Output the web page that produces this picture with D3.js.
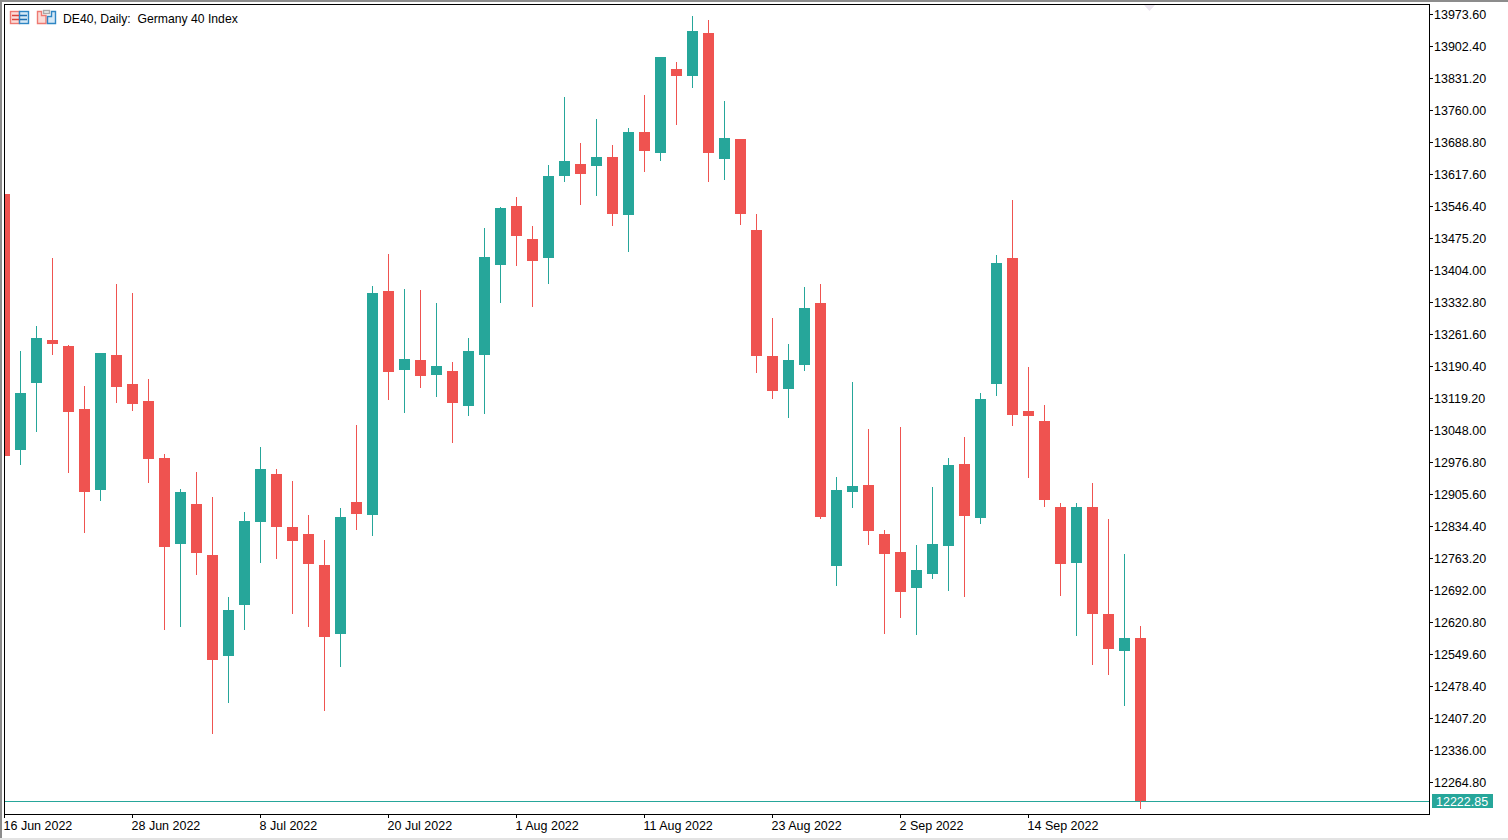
<!DOCTYPE html>
<html>
<head>
<meta charset="utf-8">
<title>DE40, Daily</title>
<script src="https://cdn.jsdelivr.net/npm/d3@7"></script>
<style>
  html, body { margin: 0; padding: 0; background: #fff; overflow: hidden; }
  svg { display: block; }
  text { font-family: "Liberation Sans", sans-serif; font-size: 12.5px; fill: #000; white-space: pre; }
  text.title { font-size: 12.2px; }
</style>
</head>
<body>
<script>

// DATA
//
var title = "DE40, Daily:  Germany 40 Index";

var dates = [
  "16 Jun 2022", "17 Jun 2022", "20 Jun 2022", "21 Jun 2022", "22 Jun 2022", "23 Jun 2022", "24 Jun 2022", "27 Jun 2022",
  "28 Jun 2022", "29 Jun 2022", "30 Jun 2022", "1 Jul 2022", "4 Jul 2022", "5 Jul 2022", "6 Jul 2022", "7 Jul 2022",
  "8 Jul 2022", "11 Jul 2022", "12 Jul 2022", "13 Jul 2022", "14 Jul 2022", "15 Jul 2022", "18 Jul 2022", "19 Jul 2022",
  "20 Jul 2022", "21 Jul 2022", "22 Jul 2022", "25 Jul 2022", "26 Jul 2022", "27 Jul 2022", "28 Jul 2022", "29 Jul 2022",
  "1 Aug 2022", "2 Aug 2022", "3 Aug 2022", "4 Aug 2022", "5 Aug 2022", "8 Aug 2022", "9 Aug 2022", "10 Aug 2022",
  "11 Aug 2022", "12 Aug 2022", "15 Aug 2022", "16 Aug 2022", "17 Aug 2022", "18 Aug 2022", "19 Aug 2022", "22 Aug 2022",
  "23 Aug 2022", "24 Aug 2022", "25 Aug 2022", "26 Aug 2022", "29 Aug 2022", "30 Aug 2022", "31 Aug 2022", "1 Sep 2022",
  "2 Sep 2022", "5 Sep 2022", "6 Sep 2022", "7 Sep 2022", "8 Sep 2022", "9 Sep 2022", "12 Sep 2022", "13 Sep 2022",
  "14 Sep 2022", "15 Sep 2022", "16 Sep 2022", "19 Sep 2022", "20 Sep 2022", "21 Sep 2022", "22 Sep 2022", "23 Sep 2022"
];

var open = [
  13573.1, 13003.5, 13152.6, 13248.3, 13234.9, 13094.7, 12914.5, 13214.9,
  13150.4, 13112.5, 12985.7, 12794.4, 12883.4, 12769.9, 12545.2, 12658.6,
  12843.3, 12950.1, 12832.2, 12816.6, 12747.6, 12594.1, 12887.8, 12858.9,
  13357.3, 13181.5, 13203.8, 13170.4, 13179.3, 13101.4, 13214.9, 13415.1,
  13546.4, 13473.0, 13430.7, 13613.2, 13639.9, 13635.4, 13655.4, 13526.4,
  13711.1, 13664.3, 13851.2, 13835.7, 13931.3, 13651.0, 13695.5, 13493.0,
  13212.7, 13139.2, 13192.6, 13330.6, 12745.4, 12910.1, 12925.6, 12816.6,
  12776.6, 12696.5, 12727.6, 12789.9, 12972.4, 12852.2, 13150.4, 13430.7,
  13090.3, 13068.0, 12876.7, 12752.1, 12876.7, 12638.6, 12556.3, 12585.2
];

var high = [
  13573.1, 13223.8, 13279.4, 13430.7, 13237.1, 13145.9, 13219.3, 13372.9,
  13352.8, 13161.5, 12994.6, 12916.7, 12954.6, 12898.9, 12676.4, 12865.6,
  13010.2, 12961.2, 12934.5, 12858.9, 12803.3, 12874.5, 13059.1, 13368.4,
  13439.6, 13361.7, 13359.5, 13330.6, 13199.3, 13252.7, 13497.5, 13544.2,
  13566.4, 13501.9, 13637.6, 13788.9, 13686.6, 13740.0, 13682.1, 13720.0,
  13793.4, 13877.9, 13866.8, 13969.2, 13960.3, 13780.0, 13695.5, 13528.6,
  13297.2, 13239.4, 13366.2, 13372.9, 12943.4, 13154.8, 13050.2, 12825.5,
  13054.7, 12792.1, 12921.2, 12985.7, 13032.4, 13130.3, 13437.4, 13559.8,
  13188.2, 13103.6, 12885.6, 12885.6, 12930.1, 12850.0, 12772.1, 12611.9
];

var low = [
  12990.4, 12970.1, 13043.6, 13214.9, 12952.3, 12818.8, 12890.0, 13108.1,
  13090.3, 12930.1, 12603.0, 12609.7, 12725.4, 12371.6, 12440.6, 12603.0,
  12752.1, 12761.0, 12638.6, 12609.7, 12422.8, 12520.7, 12825.5, 12812.2,
  13114.8, 13085.8, 13141.5, 13121.4, 13019.1, 13079.2, 13083.6, 13330.6,
  13412.9, 13321.7, 13372.9, 13599.8, 13548.6, 13568.7, 13501.9, 13444.1,
  13622.1, 13646.5, 13726.6, 13809.0, 13599.8, 13604.3, 13504.1, 13174.8,
  13117.0, 13074.7, 13179.3, 12850.0, 12700.9, 12874.5, 12792.1, 12594.1,
  12629.7, 12591.9, 12716.5, 12689.8, 12676.4, 12838.8, 13123.7, 13056.9,
  12941.2, 12876.7, 12678.6, 12589.6, 12525.1, 12502.9, 12433.9, 12204.7
];

var close = [
  12990.4, 13130.3, 13252.7, 13239.4, 13088.1, 12910.1, 13219.3, 13143.7,
  13105.9, 12983.5, 12787.7, 12910.1, 12774.3, 12536.3, 12647.5, 12845.5,
  12961.2, 12832.2, 12801.0, 12749.9, 12587.4, 12854.4, 12861.1, 13352.8,
  13177.1, 13206.0, 13168.2, 13190.4, 13108.1, 13223.8, 13432.9, 13542.0,
  13479.7, 13424.0, 13613.2, 13646.5, 13617.6, 13655.4, 13528.6, 13711.1,
  13668.8, 13877.9, 13835.7, 13935.8, 13664.3, 13697.7, 13528.6, 13212.7,
  13134.8, 13203.8, 13319.5, 12854.4, 12914.5, 12923.4, 12823.3, 12772.1,
  12687.6, 12736.5, 12794.4, 12970.1, 12856.7, 13117.0, 13419.6, 13081.4,
  13079.2, 12892.3, 12749.9, 12876.7, 12638.6, 12560.7, 12585.2, 12222.85
];

var priceTicks = [
  13973.6, 13902.4, 13831.2, 13760.0, 13688.8, 13617.6, 13546.4, 13475.2, 13404.0, 13332.8, 13261.6, 13190.4,
  13119.2, 13048.0, 12976.8, 12905.6, 12834.4, 12763.2, 12692.0, 12620.8, 12549.6, 12478.4, 12407.2, 12336.0, 12264.8
];

var dateTicks = ["16 Jun 2022", "28 Jun 2022", "8 Jul 2022", "20 Jul 2022", "1 Aug 2022", "11 Aug 2022", "23 Aug 2022", "2 Sep 2022", "14 Sep 2022"];

var lastPrice = 12222.85;

// COLORI
//
var upColor = "#26a69a";
var downColor = "#ef5350";

var width = 1508;
var height = 840;

var svg = d3.select("body").append("svg")
  .attr("width", width)
  .attr("height", height);

// SCALE
//
var x = d3.scalePoint().domain(dates).range([4, 1140]);
var y = d3.scaleLinear().domain([13973.6, 12264.8]).range([14, 782]);

// CORNICE DELLA FINESTRA
//
svg.append("rect").attr("x", 0).attr("y", 0).attr("width", width).attr("height", 2).attr("fill", "#8c8c8c");
svg.append("rect").attr("x", 0).attr("y", 0).attr("width", 2).attr("height", 838).attr("fill", "#8c8c8c");
svg.append("rect").attr("x", 0).attr("y", 838).attr("width", width).attr("height", 2).attr("fill", "#e3e3e3");

svg.append("defs").append("clipPath").attr("id", "plot")
  .append("rect").attr("x", 5).attr("y", 5).attr("width", 1424).attr("height", 809);

var plot = svg.append("g").attr("clip-path", "url(#plot)");

var candles = dates.map(function(d, i) {
  return { date: d, open: open[i], high: high[i], low: low[i], close: close[i] };
});

function candleColor(d) {
  return d.close >= d.open && d.date != dates[0] ? upColor : downColor;
}

// LINEA DELL'ULTIMO PREZZO
//
plot.append("line")
  .attr("x1", 5).attr("x2", 1429)
  .attr("y1", Math.round(y(lastPrice)) + 0.5).attr("y2", Math.round(y(lastPrice)) + 0.5)
  .attr("stroke", upColor);

// STOPPINI
//
plot.selectAll(".wick").data(candles).enter().append("rect")
  .attr("class", "wick")
  .attr("x", function(d) { return x(d.date); })
  .attr("y", function(d) { return Math.round(y(d.high)); })
  .attr("width", 1)
  .attr("height", function(d) { return Math.round(y(d.low)) - Math.round(y(d.high)); })
  .attr("fill", candleColor);

// CORPI
//
plot.selectAll(".body").data(candles).enter().append("rect")
  .attr("class", "body")
  .attr("x", function(d) { return x(d.date) - 5; })
  .attr("y", function(d) { return Math.round(y(Math.max(d.open, d.close))); })
  .attr("width", 11)
  .attr("height", function(d) { return Math.round(y(Math.min(d.open, d.close))) - Math.round(y(Math.max(d.open, d.close))); })
  .attr("fill", candleColor);

// MANIGLIA IN ALTO
//
svg.append("path").attr("d", "M1144 5H1155L1149.5 11Z").attr("fill", "#ece6f0");

// BORDO DEL GRAFICO
//
svg.append("rect")
  .attr("x", 4.5).attr("y", 4.5).attr("width", 1425).attr("height", 810)
  .attr("fill", "none").attr("stroke", "#000");

// ASSI
//
var yAxis = d3.axisRight(y)
  .tickValues(priceTicks)
  .tickFormat(d3.format(".2f"))
  .tickSize(4)
  .tickPadding(1);

var gy = svg.append("g").attr("transform", "translate(1429,0)").call(yAxis);
gy.select(".domain").remove();
gy.selectAll("line").attr("stroke", "#000");
gy.selectAll("text").attr("font-family", null).attr("fill", "#000");

var xAxis = d3.axisBottom(x)
  .tickValues(dateTicks)
  .tickSize(4)
  .tickPadding(0);

var gx = svg.append("g").attr("transform", "translate(0,814)").call(xAxis);
gx.select(".domain").remove();
gx.selectAll("line").attr("stroke", "#000");
gx.selectAll("text").attr("text-anchor", "start").attr("dx", -1).attr("y", 7);

// ETICHETTA DELL'ULTIMO PREZZO
//
svg.append("rect")
  .attr("x", 1432).attr("y", Math.round(y(lastPrice)) - 7)
  .attr("width", 61).attr("height", 14)
  .attr("fill", upColor);

svg.append("text")
  .attr("x", 1436).attr("y", Math.round(y(lastPrice)) + 4.5)
  .style("fill", "#fff")
  .text(d3.format(".2f")(lastPrice));

// TITOLO
//
svg.append("text").attr("class", "title").attr("x", 63).attr("y", 22.5).text(title);

// ICONE
//
var icons = svg.append("g").attr("fill", "none").attr("stroke-width", 1.4);
icons.append("rect").attr("x", 10.5).attr("y", 11.5).attr("width", 9).attr("height", 12).attr("fill", "#fbdcd8").attr("stroke", "#ee7a72");
icons.append("rect").attr("x", 19.5).attr("y", 11.5).attr("width", 9).attr("height", 12).attr("fill", "#d5e8f6").attr("stroke", "#2f86c4");
icons.append("path").attr("d", "M12 15.5H19M12 19.5H19").attr("stroke", "#d9443c");
icons.append("path").attr("d", "M20 15.5H27M20 19.5H27").attr("stroke", "#1f6fb0");
icons.append("path").attr("d", "M37.5 11.5H41.5V15.5H46V23.5H37.5Z").attr("fill", "#fbdcd8").attr("stroke", "#ee7a72");
icons.append("path").attr("d", "M47.5 16.5H51.5V11.5H55.5V23.5H47.5Z").attr("fill", "#d5e8f6").attr("stroke", "#2f86c4");
icons.append("rect").attr("x", 43.5).attr("y", 10.5).attr("width", 6).attr("height", 3).attr("fill", "#eee").attr("stroke", "#aaa");

</script>
</body>
</html>
